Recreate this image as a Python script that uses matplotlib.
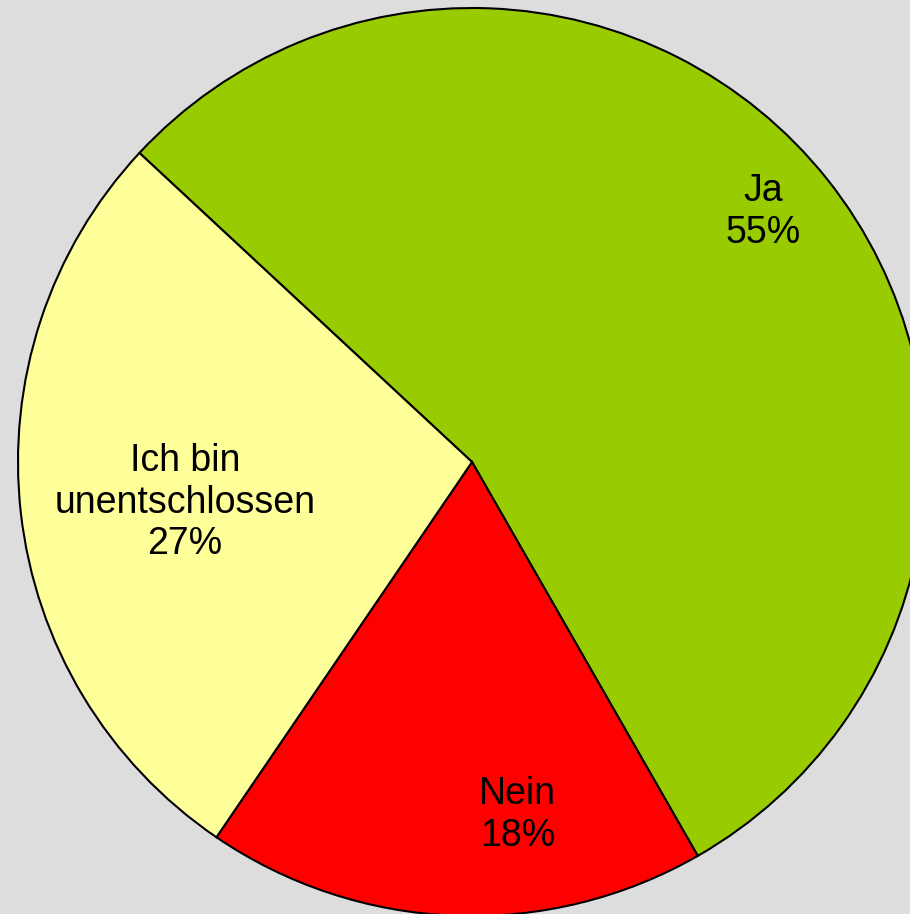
import matplotlib
matplotlib.use("Agg")
import matplotlib.pyplot as plt
import numpy as np

categories = ["Ja", "Nein", "Ich bin\nunentschlossen"]
values = [54.8, 17.8, 27.4]
colors = ["#99CC00", "#FF0000", "#FFFF99"]
# label placement (fraction of radius, angle in degrees)
label_dist = [0.845, 0.784, 0.639]
label_ang = [40.7, -82.6, 188.1]

plt.rcParams['font.family'] = ['Liberation Sans', 'DejaVu Sans']

fig = plt.figure(figsize=(9.10, 9.14), dpi=100, facecolor="#DDDDDD")
ax = fig.add_axes([0, 0, 1, 1])
ax.set_facecolor("#DDDDDD")

R = 454.0
ax.pie(values, colors=colors, startangle=137.1, counterclock=False,
       radius=1.0, center=(0, 0),
       wedgeprops=dict(edgecolor="black", linewidth=1.5))

for cat, v, d, a in zip(categories, values, label_dist, label_ang):
    x = d * np.cos(np.radians(a))
    y = d * np.sin(np.radians(a))
    ax.text(x, y, f"{cat}\n{round(v)}%", ha="center", va="center",
            fontsize=27, linespacing=1.2, color="black")

ax.set_xlim(-472 / R, 438 / R)
ax.set_ylim(-452 / R, 462 / R)
ax.set_aspect("auto")
ax.axis("off")

fig.savefig("out.png", dpi=100, facecolor="#DDDDDD")
